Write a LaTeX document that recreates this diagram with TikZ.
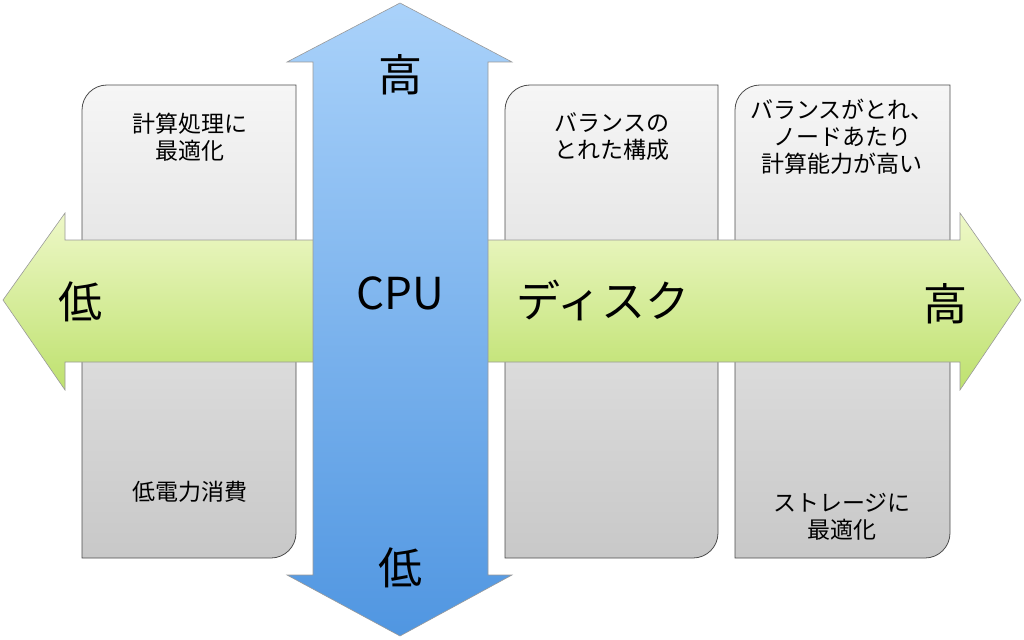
\documentclass[tikz,border=0pt]{standalone}
\usepackage{fontspec}
\setmainfont{Noto Sans CJK JP}
\usetikzlibrary{positioning}
\definecolor{cardtop}{RGB}{246,246,246}
\definecolor{cardbot}{RGB}{200,200,200}
\definecolor{greentop}{RGB}{238,248,200}
\definecolor{greenbot}{RGB}{190,225,110}
\definecolor{bluetop}{RGB}{170,210,250}
\definecolor{bluebot}{RGB}{80,150,225}
\tikzset{
  card/.style={draw=black!70,line width=0.8pt,top color=cardtop,bottom color=cardbot},
  cardtext/.style={align=center,font=\fontsize{23}{27}\selectfont},
  bigtext/.style={font=\fontsize{44}{48}\selectfont}
}
\newcommand{\card}[4]{% x1,y1,x2,y2
  \path[card] (#1+25,#2) -- (#3,#2) -- (#3,#4+25) arc(0:-90:25) -- (#1,#4) -- (#1,#2-25) arc(180:90:25) -- cycle;}
\begin{document}
\begin{tikzpicture}[x=1pt,y=1pt]
\useasboundingbox (0,0) rectangle (1024,-639);

% cards
\card{82}{-85}{296}{-558}
\card{505}{-85}{718}{-558}
\card{735}{-85}{950}{-558}

% disk arrow
\path[draw=black!40,line width=0.6pt,top color=greentop,bottom color=greenbot]
  (3,-300) -- (65,-213) -- (65,-240) -- (960,-240) -- (960,-213) -- (1021,-300)
  -- (960,-390) -- (960,-362) -- (65,-362) -- (65,-390) -- cycle;

% cpu arrow
\path[draw=black!40,line width=0.6pt,top color=bluetop,bottom color=bluebot]
  (400,-3) -- (512,-62) -- (488,-62) -- (488,-575) -- (512,-575) -- (400,-636)
  -- (287,-575) -- (313,-575) -- (313,-62) -- (287,-62) -- cycle;

\node[cardtext] (c1top) at (190,-137) {計算処理に\\最適化};
\node[cardtext] (c1bot) at (190,-492) {低電力消費};
\node[cardtext] (c2top) at (612,-137) {バランスの\\とれた構成};
\node[cardtext] (c3top) at (842,-137) {バランスがとれ、\\ノードあたり\\計算能力が高い};
\node[cardtext] (c3bot) at (842,-517) {ストレージに\\最適化};

\node[bigtext] (cpuhi) at (400,-75) {高};
\node[bigtext] (cpu) at (400,-293) {CPU};
\node[bigtext] (cpulo) at (400,-568) {低};
\node[bigtext] (disklo) at (80,-302) {低};
\node[bigtext] (disk) at (603,-300) {ディスク};
\node[bigtext] (diskhi) at (945,-304) {高};
\end{tikzpicture}
\end{document}
